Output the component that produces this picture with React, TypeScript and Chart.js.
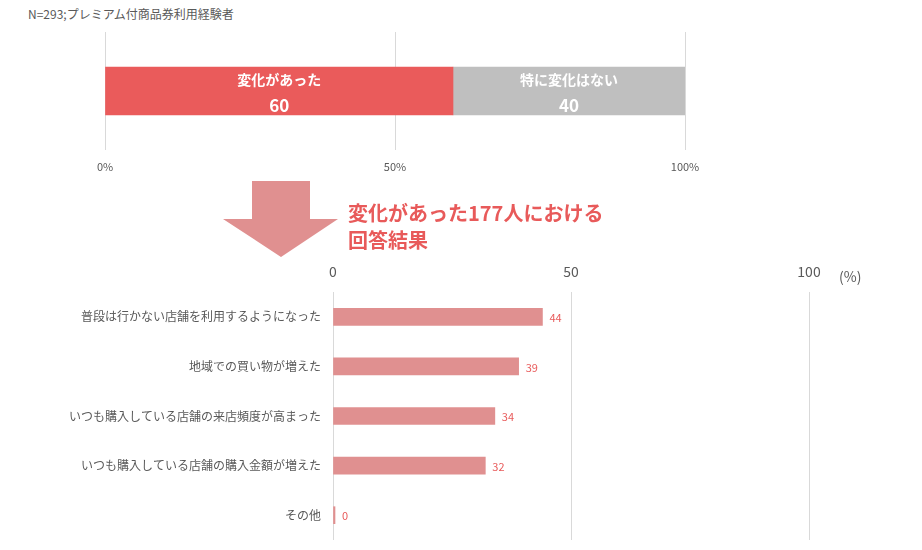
import React, { useEffect, useRef } from "react";
import { Chart, registerables } from "chart.js";

Chart.register(...registerables);

const FONT = "'Noto Sans CJK JP', 'Noto Sans', sans-serif";

// Top chart data
const topLabels = ["変化があった", "特に変化はない"];
const topValues = [60, 40];
const topColors = ["#EA5B5B", "#BFBFBF"];
const topTicks = [0, 50, 100];

// Bottom chart data
const bottomCategories = [
  "普段は行かない店舗を利用するようになった",
  "地域での買い物が増えた",
  "いつも購入している店舗の来店頻度が高まった",
  "いつも購入している店舗の購入金額が増えた",
  "その他",
];
const bottomValues = [44, 39, 34, 32, 0];

const caption = "N=293;プレミアム付商品券利用経験者";
const titleLines = ["変化があった177人における", "回答結果"];

const topInnerLabels = {
  id: "topInnerLabels",
  afterDatasetsDraw(chart: any) {
    const ctx = chart.ctx;
    chart.data.datasets.forEach((ds: any, i: number) => {
      const meta = chart.getDatasetMeta(i);
      meta.data.forEach((bar: any) => {
        const cx = (bar.x + bar.base) / 2;
        const top = bar.y - bar.height / 2;
        ctx.save();
        ctx.fillStyle = "#FFFFFF";
        ctx.textAlign = "center";
        ctx.textBaseline = "middle";
        ctx.font = `bold 14px ${FONT}`;
        ctx.fillText(ds.label, cx, top + 13);
        ctx.font = `bold 17px ${FONT}`;
        ctx.fillText(String(ds.data[0]), cx, top + 39);
        ctx.restore();
      });
    });
  },
};

const bottomValueLabels = {
  id: "bottomValueLabels",
  afterDatasetsDraw(chart: any) {
    const ctx = chart.ctx;
    const meta = chart.getDatasetMeta(0);
    const data = chart.data.datasets[0].data;
    meta.data.forEach((bar: any, idx: number) => {
      ctx.save();
      ctx.fillStyle = "#E85A5A";
      ctx.font = `11px ${FONT}`;
      ctx.textAlign = "left";
      ctx.textBaseline = "middle";
      ctx.fillText(String(data[idx]), bar.x + 7, bar.y + 1);
      ctx.restore();
    });
  },
};

export default function App() {
  const topRef = useRef<HTMLCanvasElement>(null);
  const bottomRef = useRef<HTMLCanvasElement>(null);

  useEffect(() => {
    Chart.defaults.font.family = FONT;
    const top = new Chart(topRef.current as HTMLCanvasElement, {
      type: "bar",
      data: {
        labels: [""],
        datasets: topLabels.map((l, i) => ({
          label: l,
          data: [topValues[i]],
          backgroundColor: topColors[i],
          borderWidth: 0,
          barThickness: 48,
        })),
      },
      options: {
        indexAxis: "y",
        animation: false,
        responsive: false,
        maintainAspectRatio: false,
        layout: { padding: { left: 105, right: 237, top: 12, bottom: 0 } },
        plugins: { legend: { display: false }, tooltip: { enabled: false } },
        scales: {
          x: {
            stacked: true,
            min: 0,
            max: 100,
            afterBuildTicks: (s: any) => {
              s.ticks = topTicks.map((v) => ({ value: v }));
            },
            afterFit: (s: any) => {
              s.height = 35;
            },
            grid: { color: "#D9D9D9", drawTicks: false },
            border: { display: false },
            ticks: {
              padding: 10,
              color: "#595959",
              font: { size: 11 },
              callback: (v: any) => v + "%",
            },
          },
          y: {
            stacked: true,
            display: false,
          },
        },
      },
      plugins: [topInnerLabels],
    } as any);

    const bottom = new Chart(bottomRef.current as HTMLCanvasElement, {
      type: "bar",
      data: {
        labels: bottomCategories,
        datasets: [
          {
            data: bottomValues,
            backgroundColor: "#E09090",
            borderWidth: 0,
            barThickness: 17,
            minBarLength: 2,
          },
        ],
      },
      options: {
        indexAxis: "y",
        animation: false,
        responsive: false,
        maintainAspectRatio: false,
        layout: { padding: { left: 0, right: 113, top: 0, bottom: 10 } },
        plugins: { legend: { display: false }, tooltip: { enabled: false } },
        scales: {
          x: {
            position: "top",
            min: 0,
            max: 100,
            afterBuildTicks: (s: any) => {
              s.ticks = topTicks.map((v) => ({ value: v }));
            },
            afterFit: (s: any) => {
              s.height = 42;
              s.paddingLeft = 0;
              s.paddingRight = 0;
            },
            grid: { color: "#D9D9D9", drawTicks: false },
            border: { display: false },
            ticks: {
              padding: 12,
              color: "#595959",
              font: { size: 14 },
            },
          },
          y: {
            afterFit: (s: any) => {
              s.width = 333;
              s.paddingTop = 0;
              s.paddingBottom = 0;
            },
            grid: { display: false, drawTicks: false },
            border: { display: false },
            ticks: {
              padding: 12,
              color: "#595959",
              font: { size: 12 },
            },
          },
        },
      },
      plugins: [bottomValueLabels],
    } as any);

    return () => {
      top.destroy();
      bottom.destroy();
    };
  }, []);

  return (
    <div
      style={{
        position: "absolute",
        left: 0,
        top: 0,
        width: 922,
        height: 550,
        background: "#FFFFFF",
        fontFamily: FONT,
        overflow: "hidden",
      }}
    >
      <div
        style={{
          position: "absolute",
          left: 28,
          top: 5,
          fontSize: 12,
          lineHeight: "18px",
          color: "#595959",
          whiteSpace: "nowrap",
        }}
      >
        {caption}
      </div>
      <canvas
        ref={topRef}
        width={922}
        height={165}
        style={{ position: "absolute", left: 0, top: 20, width: 922, height: 165 }}
      />
      <svg
        width={922}
        height={550}
        style={{ position: "absolute", left: 0, top: 0, pointerEvents: "none" }}
      >
        <polygon
          points="252,181 310,181 310,219 338,219 281,257 223,219 252,219"
          fill="#E09090"
        />
      </svg>
      <div
        style={{
          position: "absolute",
          left: 348,
          top: 199,
          fontSize: 20,
          fontWeight: "bold",
          lineHeight: "27px",
          color: "#E85A5A",
          whiteSpace: "nowrap",
        }}
      >
        {titleLines.map((t, i) => (
          <div key={i}>{t}</div>
        ))}
      </div>
      <canvas
        ref={bottomRef}
        width={922}
        height={300}
        style={{ position: "absolute", left: 0, top: 250, width: 922, height: 300 }}
      />
      <div
        style={{
          position: "absolute",
          left: 839,
          top: 266,
          fontSize: 14,
          lineHeight: "20px",
          color: "#595959",
          whiteSpace: "nowrap",
        }}
      >
        (%)
      </div>
    </div>
  );
}
